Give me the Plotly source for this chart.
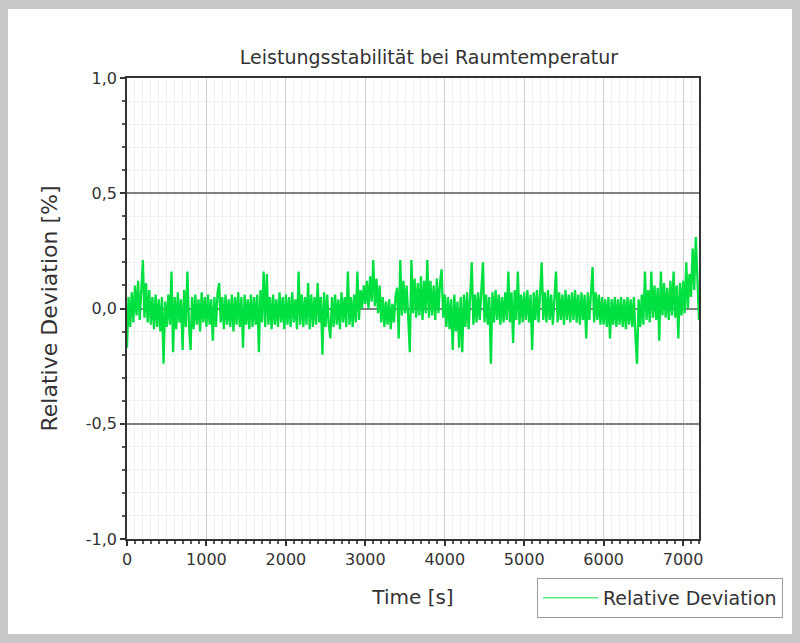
import plotly.graph_objects as go

time_step_s = 20
relative_deviation = [
    -0.17, 0.05, -0.08, 0.07, -0.06, 0.10, -0.03, 0.12, -0.05, 0.09,
    0.21, -0.04, 0.11, -0.06, 0.08, -0.07, 0.05, -0.09, 0.06, -0.08,
    0.04, -0.10, 0.05, -0.24, 0.03, -0.08, 0.06, -0.07, 0.16, -0.19,
    0.05, -0.09, 0.07, -0.06, 0.04, -0.18, 0.08, -0.08, 0.16, -0.07,
    -0.18, 0.05, -0.09, 0.06, -0.07, 0.04, -0.10, 0.07, -0.06, 0.05,
    -0.08, 0.06, -0.07, 0.04, -0.14, 0.05, -0.08, 0.07, 0.11, -0.06,
    0.05, -0.09, 0.06, -0.07, 0.04, -0.08, 0.06, -0.10, 0.05, -0.07,
    0.07, -0.08, 0.05, -0.17, 0.06, -0.07, 0.04, -0.09, 0.06, -0.08,
    0.05, -0.07, 0.06, -0.19, 0.08, -0.06, 0.16, -0.08, 0.15, -0.07,
    0.05, -0.09, 0.06, -0.07, 0.04, -0.08, 0.07, -0.06, 0.05, -0.09,
    0.06, -0.07, 0.05, -0.08, 0.07, -0.06, 0.04, -0.09, 0.16, -0.07,
    0.06, -0.08, 0.05, -0.07, 0.11, -0.09, 0.06, -0.08, 0.05, -0.07,
    0.11, -0.06, 0.05, -0.20, 0.07, -0.08, 0.06, -0.07, -0.13, 0.05,
    -0.08, 0.06, -0.07, 0.04, -0.09, 0.07, -0.06, 0.05, -0.08, 0.16,
    -0.07, 0.05, -0.08, 0.06, -0.06, 0.16, -0.05, 0.08, 0.00, 0.10,
    0.02, 0.12, 0.00, 0.14, 0.03, 0.21, 0.01, 0.13, -0.02, 0.10,
    -0.06, 0.05, -0.08, 0.03, -0.07, 0.04, -0.09, 0.02, -0.06, 0.05,
    0.09, -0.13, 0.21, -0.03, 0.12, -0.02, 0.10, -0.04, -0.19, 0.21,
    -0.02, 0.13, -0.04, 0.11, -0.03, 0.14, -0.05, 0.12, -0.02, 0.21,
    -0.04, 0.12, -0.03, 0.10, -0.05, 0.13, -0.02, 0.11, 0.17, -0.04,
    0.06, -0.08, 0.05, -0.09, 0.04, -0.18, 0.06, -0.10, 0.03, -0.17,
    0.05, -0.19, 0.06, -0.08, 0.07, -0.09, 0.05, 0.20, -0.07, 0.06,
    -0.06, 0.07, -0.05, 0.08, 0.20, -0.06, 0.06, -0.07, 0.05, -0.24,
    0.07, -0.06, 0.08, -0.05, 0.06, -0.07, 0.05, -0.06, 0.07, -0.05,
    0.16, -0.06, 0.07, -0.15, 0.08, -0.05, 0.16, -0.07, 0.06, -0.06,
    0.07, -0.05, 0.08, -0.06, 0.06, -0.18, 0.07, -0.05, 0.08, -0.06,
    0.06, 0.20, -0.05, 0.07, -0.06, 0.08, -0.05, 0.06, -0.07, 0.07,
    0.16, -0.06, 0.07, -0.05, 0.06, -0.07, 0.08, -0.05, 0.06, -0.06,
    0.07, -0.05, 0.08, -0.06, 0.06, -0.07, 0.07, -0.05, 0.06, -0.13,
    0.07, -0.05, 0.08, 0.18, -0.06, 0.07, -0.05, 0.06, -0.07, 0.05,
    -0.07, 0.04, -0.08, 0.05, -0.13, 0.04, -0.07, 0.05, -0.08, 0.04,
    -0.07, 0.05, -0.08, 0.04, -0.09, 0.05, -0.07, 0.04, -0.08, 0.05,
    -0.12, -0.24, 0.04, -0.08, 0.06, -0.07, 0.16, -0.05, 0.08, -0.06,
    0.16, -0.04, 0.10, -0.05, 0.09, -0.14, 0.16, -0.03, 0.11, -0.04,
    0.09, -0.05, 0.12, -0.03, 0.16, -0.04, 0.10, -0.13, 0.11, -0.03,
    0.12, -0.02, 0.20, 0.00, 0.15, 0.05, 0.26, 0.08, 0.31, 0.10,
    -0.05,
]
time_s = [i * time_step_s for i in range(len(relative_deviation))]

x_tick_vals = [0, 1000, 2000, 3000, 4000, 5000, 6000, 7000]
x_tick_labels = ["0", "1000", "2000", "3000", "4000", "5000", "6000", "7000"]
y_tick_vals = [-1.0, -0.5, 0.0, 0.5, 1.0]
y_tick_labels = ["-1,0", "-0,5", "0,0", "0,5", "1,0"]

title_text = "Leistungsstabilität bei Raumtemperatur"
x_title = "Time [s]"
y_title = "Relative Deviation [%]"
series_name = "Relative Deviation"

FONT = "DejaVu Sans"
LINE_COLOR = "#00E040"
W, H = 800, 643
ML, MR, MT, MB = 127, 101, 78, 104
PW, PH = W - ML - MR, H - MT - MB


def px_x(px):
    return (px - ML) / PW


def px_y(py):
    return (H - MB - py) / PH


fig = go.Figure()
fig.add_trace(go.Scatter(
    x=time_s, y=relative_deviation, mode="lines", name=series_name,
    line=dict(color=LINE_COLOR, width=2.3), showlegend=False,
    legendgroup="rd",
))
# legend entry with the thin line sample seen in the reference
fig.add_trace(go.Scatter(
    x=[None], y=[None], mode="lines", name=series_name,
    line=dict(color=LINE_COLOR, width=1), legendgroup="rd",
))

fig.update_layout(
    width=W, height=H,
    margin=dict(l=ML, r=MR, t=MT, b=MB, autoexpand=False),
    paper_bgcolor="#c8c8c8",
    plot_bgcolor="white",
    font=dict(family=FONT, color="#333333"),
    title=dict(text=title_text, font=dict(family=FONT, size=19, color="#333333"),
               x=px_x(429), xref="paper", xanchor="center",
               y=1 - 57 / H, yref="container", yanchor="middle"),
    showlegend=True,
    legend=dict(x=px_x(537), y=px_y(578), xanchor="left", yanchor="top",
                bgcolor="white", bordercolor="#999999", borderwidth=1,
                font=dict(family=FONT, size=19, color="#333333"),
                itemwidth=55),
    shapes=[dict(type="rect", xref="paper", yref="paper", layer="below",
                 x0=px_x(8), x1=px_x(792), y0=px_y(634), y1=px_y(9),
                 fillcolor="white", line=dict(width=0))],
)

fig.update_xaxes(
    range=[0, 7200], tickvals=x_tick_vals, ticktext=x_tick_labels,
    ticks="outside", ticklen=5, tickcolor="#333333", tickwidth=1.5,
    tickfont=dict(family=FONT, size=16, color="#333333"),
    showline=True, linecolor="#333333", linewidth=1.5, mirror=True,
    showgrid=True, gridcolor="#d0d0d0", gridwidth=1, zeroline=False,
    minor=dict(dtick=100, tick0=0, ticks="outside", ticklen=3, tickcolor="#555555",
               showgrid=True, gridcolor="#f0f0f0", gridwidth=1),
    title=dict(text=x_title, font=dict(family=FONT, size=20, color="#333333"), standoff=22),
)
fig.update_yaxes(
    range=[-1.0, 1.0], tickvals=y_tick_vals, ticktext=y_tick_labels,
    ticks="outside", ticklen=5, tickcolor="#333333", tickwidth=1.5,
    tickfont=dict(family=FONT, size=16, color="#333333"),
    showline=True, linecolor="#333333", linewidth=1.5, mirror=True,
    showgrid=True, gridcolor="#808080", gridwidth=1.5, zeroline=False,
    minor=dict(dtick=0.1, tick0=0, ticks="outside", ticklen=3, tickcolor="#555555",
               showgrid=True, gridcolor="#f0f0f0", gridwidth=1),
    title=dict(text=y_title, font=dict(family=FONT, size=22, color="#333333"), standoff=22),
)

fig.write_html("out.html")
